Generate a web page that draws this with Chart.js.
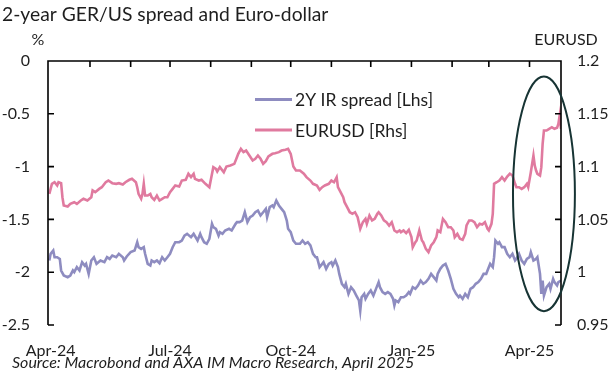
<!DOCTYPE html>
<html>
<head>
<meta charset="utf-8">
<script src="https://cdn.jsdelivr.net/npm/chart.js@4.4.1/dist/chart.umd.min.js"></script>
<style>
  html, body { margin: 0; padding: 0; background: #fff; }
  #wrap { width: 614px; height: 379px; position: relative; }
</style>
</head>
<body>
<div id="wrap"><canvas id="spreadChart"></canvas></div>
<script>
// x values are days counted from 1 Apr 2024
const spreadDays = [-1,0,2,3,5,7,8,10,13,15,17,18,20,22,24,26,27,29,31,33,35,38,41,43,45,47,50,52,55,56,58,61,64,66,67,69,71,72,74,76,77,79,81,83,85,87,89,91,93,95,98,100,102,104,107,109,112,114,115,117,119,121,123,124,126,128,129,131,133,136,138,141,142,144,146,148,150,152,154,156,158,160,162,164,165,167,169,170,172,174,176,178,180,181,183,185,187,190,192,194,196,198,200,202,203,205,207,208,210,212,214,215,217,219,220,222,224,225,227,229,231,233,235,236,237,239,240,242,244,246,248,250,251,253,255,257,259,261,262,263,265,267,269,271,273,274,276,278,280,282,284,286,288,290,292,294,295,297,299,301,303,305,307,309,311,312,314,316,318,320,322,324,326,328,330,332,333,335,337,338,339,341,342,344,346,348,350,352,354,355,357,359,361,363,365,366,368,370,371,373,374,375,376,378,380,381,383,384,386,387,389];
const spreadValues = [-1.889,-1.826,-1.795,-1.858,-1.858,-1.874,-1.984,-2.031,-2.047,-2.031,-1.984,-2.000,-1.952,-1.984,-1.905,-1.937,-1.921,-2.016,-1.889,-1.858,-1.921,-1.889,-1.905,-1.858,-1.874,-1.842,-1.858,-1.826,-1.858,-1.889,-1.851,-1.810,-1.795,-1.716,-1.763,-1.779,-1.763,-1.826,-1.921,-1.937,-1.889,-1.905,-1.889,-1.915,-1.858,-1.889,-1.858,-1.826,-1.763,-1.716,-1.716,-1.700,-1.653,-1.637,-1.668,-1.637,-1.700,-1.637,-1.668,-1.716,-1.731,-1.684,-1.542,-1.574,-1.589,-1.653,-1.621,-1.637,-1.605,-1.589,-1.605,-1.542,-1.526,-1.526,-1.511,-1.432,-1.526,-1.479,-1.463,-1.432,-1.416,-1.463,-1.432,-1.400,-1.479,-1.384,-1.368,-1.384,-1.321,-1.368,-1.400,-1.432,-1.511,-1.589,-1.621,-1.700,-1.731,-1.731,-1.700,-1.731,-1.716,-1.747,-1.826,-1.858,-1.858,-1.952,-1.921,-1.905,-1.968,-1.921,-1.905,-1.937,-1.889,-1.952,-2.016,-2.110,-2.142,-2.110,-2.205,-2.142,-2.173,-2.221,-2.268,-2.363,-2.237,-2.205,-2.252,-2.205,-2.173,-2.221,-2.158,-2.094,-2.142,-2.189,-2.205,-2.189,-2.205,-2.252,-2.315,-2.268,-2.284,-2.237,-2.237,-2.221,-2.189,-2.205,-2.142,-2.158,-2.126,-2.079,-2.110,-2.094,-2.063,-2.016,-2.047,-2.079,-2.016,-1.968,-1.937,-1.921,-1.984,-2.063,-2.158,-2.205,-2.237,-2.221,-2.252,-2.205,-2.237,-2.158,-2.142,-2.110,-2.094,-2.063,-2.016,-2.016,-1.984,-1.921,-1.952,-1.858,-1.700,-1.731,-1.716,-1.763,-1.763,-1.826,-1.858,-1.826,-1.889,-1.874,-1.826,-1.889,-1.921,-1.874,-1.858,-1.810,-1.889,-1.874,-1.858,-2.016,-2.205,-2.079,-2.221,-2.142,-2.110,-2.158,-2.063,-2.094,-2.126,-2.094,-2.079];

const eurDays = [-1,1,3,5,6,8,9,10,13,15,18,20,23,25,28,31,32,34,37,39,42,44,47,50,52,55,57,60,62,65,66,67,69,70,71,72,74,76,77,79,81,83,85,87,89,91,93,95,98,100,103,105,107,109,110,113,115,118,121,122,124,126,127,129,132,134,137,140,142,143,145,147,149,152,154,156,158,160,162,164,166,169,171,174,176,179,181,183,185,187,190,193,195,198,200,203,205,207,209,212,214,216,218,219,221,223,224,226,228,230,232,234,236,238,240,241,243,245,247,249,250,252,254,256,258,260,262,264,266,267,269,271,273,275,276,278,279,281,283,284,286,288,290,292,294,295,297,299,301,303,305,307,308,310,312,314,316,317,319,321,323,325,327,329,331,333,334,336,337,338,340,342,344,346,348,350,352,354,355,357,359,361,363,364,366,368,369,370,371,373,374,375,376,378,380,382,384,386,387,388,389];
const eurValues = [1.0742,1.0837,1.0852,1.0821,1.0852,1.0843,1.0710,1.0632,1.0622,1.0647,1.0663,1.0647,1.0679,1.0695,1.0679,1.0710,1.0774,1.0758,1.0789,1.0805,1.0852,1.0868,1.0843,1.0837,1.0843,1.0830,1.0852,1.0875,1.0884,1.0852,1.0805,1.0742,1.0695,1.0742,1.0837,1.0726,1.0726,1.0742,1.0710,1.0685,1.0726,1.0679,1.0695,1.0710,1.0710,1.0758,1.0789,1.0821,1.0811,1.0868,1.0875,1.0932,1.0900,1.0932,1.0884,1.0868,1.0875,1.0837,1.0805,1.0868,1.0995,1.0979,1.0954,1.0995,1.0947,1.1001,1.1010,1.1026,1.1089,1.1121,1.1168,1.1137,1.1152,1.1096,1.1058,1.1074,1.1105,1.1074,1.1026,1.1051,1.1096,1.1121,1.1127,1.1137,1.1152,1.1159,1.1168,1.1121,1.1001,1.0963,1.0963,1.0932,1.0900,1.0868,1.0837,1.0821,1.0780,1.0805,1.0821,1.0837,1.0868,1.0852,1.0900,1.0805,1.0758,1.0710,1.0663,1.0616,1.0568,1.0553,1.0568,1.0521,1.0411,1.0474,1.0505,1.0458,1.0537,1.0490,1.0505,1.0553,1.0568,1.0537,1.0490,1.0474,1.0442,1.0474,1.0395,1.0379,1.0395,1.0379,1.0395,1.0370,1.0401,1.0332,1.0237,1.0284,1.0300,1.0395,1.0300,1.0284,1.0221,1.0190,1.0253,1.0284,1.0332,1.0395,1.0379,1.0505,1.0474,1.0426,1.0426,1.0395,1.0332,1.0363,1.0316,1.0306,1.0363,1.0442,1.0490,1.0490,1.0474,1.0426,1.0458,1.0452,1.0474,1.0411,1.0395,1.0458,1.0553,1.0837,1.0852,1.0868,1.0900,1.0868,1.0906,1.0932,1.0916,1.0837,1.0805,1.0805,1.0789,1.0805,1.0837,1.0805,1.0947,1.1105,1.1010,1.0963,1.0932,1.0916,1.0995,1.1216,1.1342,1.1342,1.1358,1.1373,1.1358,1.1367,1.1405,1.1484,1.1358];

// first day of each month (tick marks on the top axis)
const monthStartDays = [30, 61, 91, 122, 153, 183, 214, 244, 275, 306, 334, 365];
const labelDays = [0, 91, 183, 275, 365];
const labelTexts = ['Apr-24', 'Jul-24', 'Oct-24', 'Jan-25', 'Apr-25'];

// highlighted area round April 2025 (day, left-axis units)
const ringCentre = [376, -1.258];
const ringRadius = [23.6, 1.111];

const FONT = 'Lato, "Open Sans", sans-serif';
const INK = '#1e1e1e';

function toPoints(days, values) {
  return days.map((d, i) => ({ x: d, y: values[i] }));
}

const decorations = {
  id: 'decorations',
  afterDraw(chart) {
    const ctx = chart.ctx;
    const a = chart.chartArea;
    const sx = chart.scales.x, sy = chart.scales.y, sy2 = chart.scales.y2;
    ctx.save();

    // axis frame with inward ticks
    ctx.strokeStyle = '#000';
    ctx.lineWidth = 1.6;
    ctx.beginPath();
    ctx.moveTo(a.left, a.bottom);
    ctx.lineTo(a.left, a.top);
    ctx.lineTo(a.right, a.top);
    ctx.lineTo(a.right, a.bottom);
    monthStartDays.forEach(d => {
      const x = sx.getPixelForValue(d);
      ctx.moveTo(x, a.top);
      ctx.lineTo(x, a.top + 6);
    });
    sy.ticks.forEach(t => {
      const y = sy.getPixelForValue(t.value);
      ctx.moveTo(a.left, y);
      ctx.lineTo(a.left + 6, y);
    });
    sy2.ticks.forEach(t => {
      const y = sy2.getPixelForValue(t.value);
      ctx.moveTo(a.right, y);
      ctx.lineTo(a.right - 6, y);
    });
    ctx.stroke();

    // ellipse
    const cx = sx.getPixelForValue(ringCentre[0]);
    const cy = sy.getPixelForValue(ringCentre[1]);
    const rx = Math.abs(sx.getPixelForValue(ringCentre[0] + ringRadius[0]) - cx);
    const ry = Math.abs(sy.getPixelForValue(ringCentre[1] + ringRadius[1]) - cy);
    ctx.strokeStyle = '#173434';
    ctx.lineWidth = 2;
    ctx.beginPath();
    ctx.ellipse(cx, cy, rx, ry, 0, 0, Math.PI * 2);
    ctx.stroke();

    // legend
    ctx.font = '17.5px ' + FONT;
    ctx.textBaseline = 'middle';
    ctx.textAlign = 'left';
    chart.data.datasets.forEach((ds, i) => {
      const y = 99.5 + i * 30.5;
      ctx.strokeStyle = ds.borderColor;
      ctx.lineWidth = 3;
      ctx.beginPath();
      ctx.moveTo(255, y);
      ctx.lineTo(292, y);
      ctx.stroke();
      ctx.fillStyle = INK;
      ctx.fillText(ds.label, 295, y + 1);
    });

    // titles and source
    ctx.fillStyle = INK;
    ctx.textBaseline = 'alphabetic';
    ctx.font = '19.3px ' + FONT;
    ctx.fillText('2-year GER/US spread and Euro-dollar', 2, 21);
    ctx.font = '16px ' + FONT;
    ctx.textAlign = 'center';
    ctx.fillText('%', 38, 45);
    ctx.fillText('EURUSD', 566, 45);
    ctx.textAlign = 'left';
    ctx.font = 'italic 16px ' + FONT;
    ctx.fillText('Source: Macrobond and AXA IM Macro Research, April 2025', 12, 368);
    ctx.restore();
  }
};

const ctx = document.getElementById('spreadChart').getContext('2d');
const spreadChart = new Chart(ctx, {
  type: 'line',
  data: {
    datasets: [
      {
        label: '2Y IR spread [Lhs]',
        data: toPoints(spreadDays, spreadValues),
        borderColor: '#8e8cc0',
        borderWidth: 2.6,
        pointRadius: 0,
        yAxisID: 'y'
      },
      {
        label: 'EURUSD [Rhs]',
        data: toPoints(eurDays, eurValues),
        borderColor: '#e07a9f',
        borderWidth: 2.6,
        pointRadius: 0,
        yAxisID: 'y2'
      }
    ]
  },
  options: {
    responsive: true,
    maintainAspectRatio: false,
    animation: false,
    events: [],
    layout: { padding: { top: 61, left: 0, right: 0, bottom: 0 } },
    plugins: {
      legend: { display: false },
      tooltip: { enabled: false }
    },
    scales: {
      x: {
        type: 'linear',
        position: 'bottom',
        min: -2,
        max: 389,
        grid: { display: false, drawTicks: false },
        border: { display: false },
        afterBuildTicks: scale => { scale.ticks = labelDays.map(v => ({ value: v })); },
        afterFit: scale => { scale.height = 54; },
        ticks: {
          autoSkip: false,
          maxRotation: 0,
          padding: 16,
          color: INK,
          font: { family: FONT, size: 16 },
          callback: v => labelTexts[labelDays.indexOf(v)]
        }
      },
      y: {
        position: 'left',
        min: -2.5,
        max: 0,
        grid: { display: false, drawTicks: false },
        border: { display: false },
        afterFit: scale => { scale.width = 48; },
        ticks: {
          stepSize: 0.5,
          padding: 18,
          color: INK,
          font: { family: FONT, size: 16 },
          callback: v => String(Number(v.toFixed(2)))
        }
      },
      y2: {
        position: 'right',
        min: 0.95,
        max: 1.2,
        grid: { display: false, drawTicks: false },
        border: { display: false },
        afterFit: scale => { scale.width = 53; },
        ticks: {
          stepSize: 0.05,
          padding: 16,
          color: INK,
          font: { family: FONT, size: 16 },
          callback: v => String(Number(v.toFixed(2)))
        }
      }
    }
  },
  plugins: [decorations]
});
</script>
</body>
</html>
